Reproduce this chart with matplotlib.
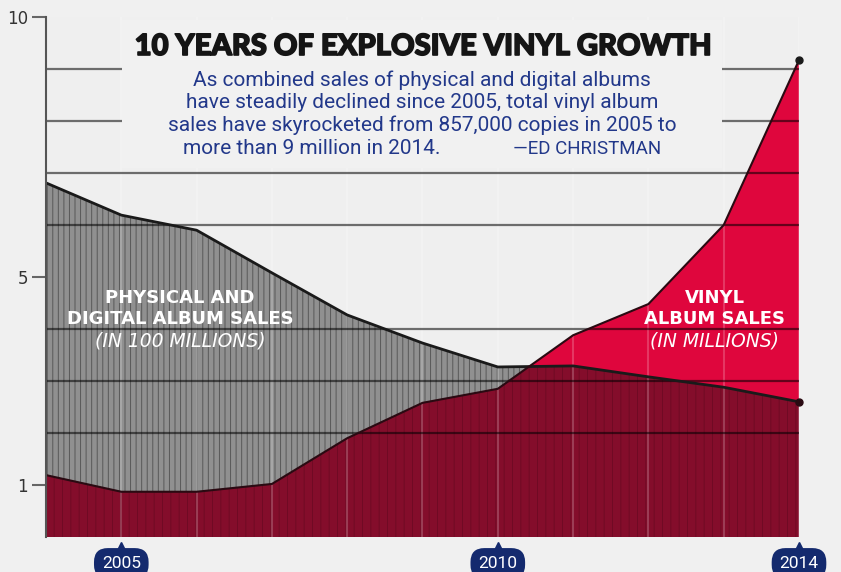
import numpy as np
import matplotlib
matplotlib.use("Agg")
import matplotlib.pyplot as plt
import matplotlib.transforms as mtransforms
import matplotlib.patheffects as pe
from matplotlib.patches import Rectangle

# ---- data ----
years = [2004, 2005, 2006, 2007, 2008, 2009, 2010, 2011, 2012, 2013, 2014]
physical_digital = [6.81, 6.19, 5.90, 5.08, 4.27, 3.73, 3.27, 3.29, 3.08, 2.88, 2.60]  # in 100 millions
vinyl = [1.19, 0.87, 0.87, 1.02, 1.90, 2.58, 2.85, 3.88, 4.48, 6.00, 9.17]  # in millions
ytick_vals = [1, 5, 10]
ytick_labels = ["1", "5", "10"]
xlabel_years = [2005, 2010, 2014]

title = "10 YEARS OF EXPLOSIVE VINYL GROWTH"
sub_lines = ["As combined sales of physical and digital albums",
             "have steadily declined since 2005, total vinyl album",
             "sales have skyrocketed from 857,000 copies in 2005 to"]
sub_last = "more than 9 million in 2014."
byline = "\u2014ED CHRISTMAN"

BG = "#f0f0f0"
GRAY = "#909090"
RED = "#df063d"
DARKRED = "#840d2b"
NAVY_TXT = "#22388a"
NAVY_BOX = "#142a6e"

W, H = 841, 572
fig = plt.figure(figsize=(W / 100, H / 100), dpi=100, facecolor=BG)
ax = fig.add_axes([46 / W, 1 - 537 / H, (799 - 46) / W, (537 - 17) / H])
ax.set_facecolor("#efefef")

x = np.array(years, dtype=float)
pd_ = np.array(physical_digital)
vn = np.array(vinyl)

plt.rcParams['hatch.linewidth'] = 0.7

gray_poly = ax.fill_between(x, 0, pd_, facecolor=GRAY, edgecolor="#585858",
                            hatch="|||", linewidth=0, zorder=1)
ax.fill_between(x, 0, vn, facecolor=RED, edgecolor="none", linewidth=0, zorder=1.1)
dark = ax.fill_between(x, 0, vn, facecolor=DARKRED, edgecolor="#700a24",
                       hatch="||", linewidth=0, zorder=1.2)
dark.set_clip_path(gray_poly.get_paths()[0], ax.transData)

ax.plot(x, pd_, color="#1a1a1a", lw=2.0, zorder=4, solid_capstyle="butt")
ax.plot(x, vn, color="#2a0a12", lw=1.5, zorder=4, solid_capstyle="butt")
ax.plot([x[-1]], [pd_[-1]], "o", color="#2a0a12", ms=5, zorder=4.1, clip_on=False)
ax.plot([x[-1]], [vn[-1]], "o", color="#1a1a1a", ms=5, zorder=4.1, clip_on=False)

ax.set_xlim(years[0], years[-1])
ax.set_ylim(0, 10)

# horizontal grid lines
ax.set_yticks(range(1, 11), minor=True)
ax.grid(which="minor", axis="y", color="black", alpha=0.55, lw=1.6)
ax.set_yticks(ytick_vals)
ax.set_yticklabels(ytick_labels)
ax.tick_params(axis="y", which="major", length=10, width=1.5, color="#666666",
               pad=3, labelsize=12, labelcolor="#333333")
ax.tick_params(axis="y", which="minor", length=0)

# vertical light grid lines
ax.set_xticks(years)
ax.set_xticklabels([])
ax.tick_params(axis="x", length=0)
ax.grid(which="major", axis="x", color="white", alpha=0.2, lw=1.5)
ax.set_axisbelow(False)

for s in ["top", "right", "bottom"]:
    ax.spines[s].set_visible(False)
ax.spines["left"].set_color("#555555")
ax.spines["left"].set_linewidth(1.5)
ax.spines["left"].set_zorder(5)

# title box covering grid lines (figure pixel coords)
fig.add_artist(Rectangle((122 / W, 1 - 168 / H), (722 - 122) / W, (168 - 20) / H,
                         transform=fig.transFigure, facecolor="#f1f1f1",
                         edgecolor="none", zorder=3))

def fx(px):
    return px / W

def fy(py):
    return 1 - py / H

fig.text(fx(423), fy(47), title, ha="center", va="center", fontsize=21,
         family=["Lato", "DejaVu Sans"], weight="black", color="#151515", zorder=6,
         path_effects=[pe.withStroke(linewidth=1.2, foreground="#151515")])
SUB_FS = 15
for i, ln in enumerate(sub_lines):
    fig.text(fx(422), fy(80 + i * 22.8), ln, ha="center", va="center",
             fontsize=SUB_FS, family=["Roboto", "DejaVu Sans"], color=NAVY_TXT, zorder=6)
fig.text(fx(183), fy(148.5), sub_last, ha="left", va="center", fontsize=SUB_FS,
         family=["Roboto", "DejaVu Sans"], color=NAVY_TXT, zorder=6)
fig.text(fx(513), fy(148.5), byline, ha="left", va="center", fontsize=13.5,
         family=["Roboto", "DejaVu Sans"], color=NAVY_TXT, zorder=6)

# series labels
lab_kw = dict(ha="center", va="center", color="white", zorder=6,
              family=["DejaVu Sans"])
LFS = 13
fig.text(fx(180), fy(298), "PHYSICAL AND", fontsize=LFS, weight="bold", **lab_kw)
fig.text(fx(180), fy(319.5), "DIGITAL ALBUM SALES", fontsize=LFS, weight="bold", **lab_kw)
fig.text(fx(180), fy(341), "(IN 100 MILLIONS)", fontsize=13.5, style="italic", **lab_kw)
fig.text(fx(715), fy(298), "VINYL", fontsize=LFS, weight="bold", **lab_kw)
fig.text(fx(715), fy(319.5), "ALBUM SALES", fontsize=LFS, weight="bold", **lab_kw)
fig.text(fx(715), fy(341), "(IN MILLIONS)", fontsize=13.5, style="italic", **lab_kw)

# year badges
ptr = mtransforms.offset_copy(ax.transData, fig=fig, x=0, y=-10, units="dots")
for yr in xlabel_years:
    ax.annotate(str(yr), xy=(yr, 0), xycoords="data", xytext=(0, -19),
                textcoords="offset points", ha="center", va="center",
                color="white", fontsize=12.5, family=["Roboto", "DejaVu Sans"],
                bbox=dict(boxstyle="round,pad=0.45,rounding_size=0.8",
                          fc=NAVY_BOX, ec="none"),
                annotation_clip=False, zorder=6)
    ax.plot([yr], [0], marker="^", color=NAVY_BOX, ms=7, transform=ptr,
            clip_on=False, zorder=6)

fig.savefig("out.png", dpi=100, facecolor=BG)
